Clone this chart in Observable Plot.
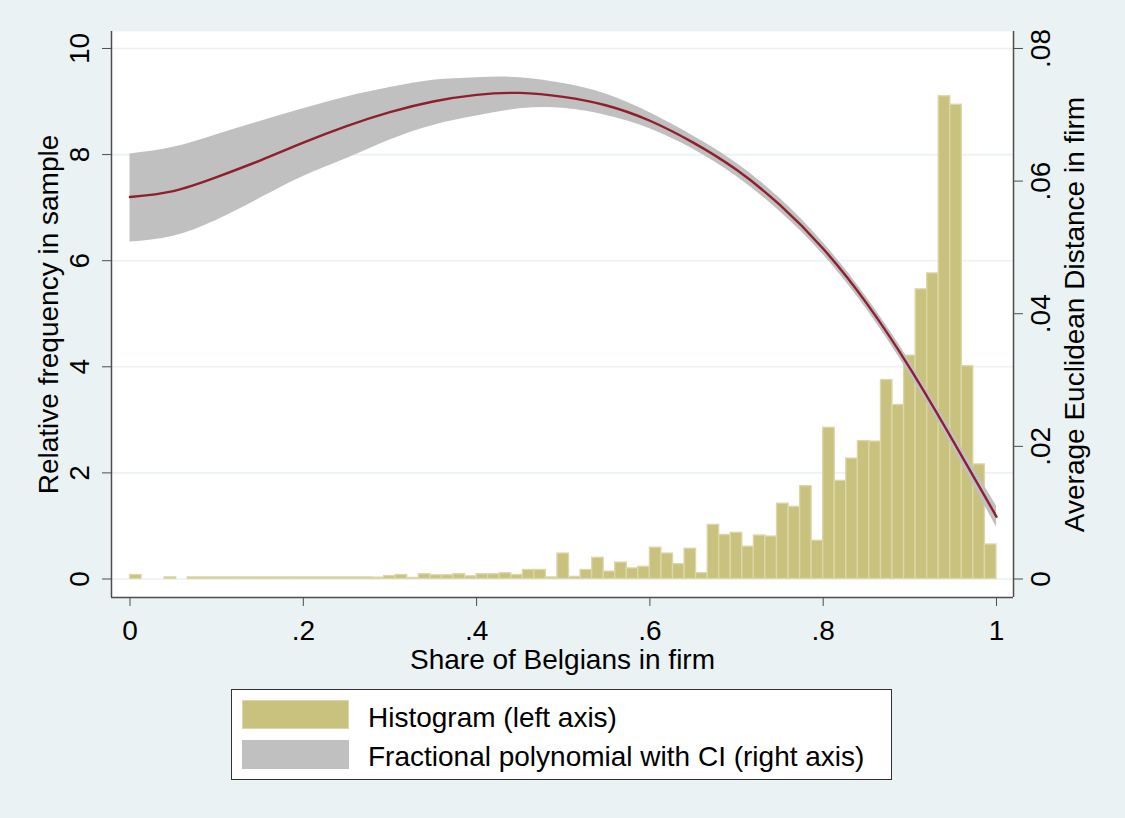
<!DOCTYPE html>
<html>
<head>
<meta charset="utf-8">
<script src="https://cdn.jsdelivr.net/npm/d3@7"></script>
<script src="https://cdn.jsdelivr.net/npm/@observablehq/plot@0.6"></script>
<style>
html, body { margin: 0; padding: 0; background: #eaf2f3; }
#wrap { position: relative; width: 1125px; height: 818px; background: #eaf2f3; font-family: "Liberation Sans", Arial, sans-serif; overflow: hidden; }
#chart { position: absolute; left: 0; top: 0; }
#legend { position: absolute; left: 231px; top: 689px; width: 661px; height: 91px; background: #fff; border: 1px solid #333; box-sizing: border-box; }
.sw { position: absolute; left: 10px; width: 107px; height: 29px; box-sizing: border-box; }
.lt { position: absolute; left: 136px; font-size: 28px; line-height: 32px; color: #000; white-space: nowrap; }
</style>
</head>
<body>
<div id="wrap">
  <div id="chart"></div>
  <div id="legend">
    <div class="sw" style="top:10px;background:#c9c27e;border:1px solid #dcd7a8;"></div>
    <div class="lt" style="top:12px;">Histogram (left axis)</div>
    <div class="sw" style="top:50px;background:#c0c0c0;"></div>
    <div class="lt" style="top:51px;">Fractional polynomial with CI (right axis)</div>
  </div>
</div>
<script>
// ---- Data ----
// Histogram: 75 equal-width bins on [0, 1], density ("relative frequency")
const binCount = 75;
const binHeights = [
  0.075, 0, 0, 0.03, 0, 0.03, 0.03, 0.03, 0.03, 0.03,
  0.03, 0.03, 0.03, 0.03, 0.03, 0.03, 0.03, 0.03, 0.03, 0.03,
  0.03, 0.025, 0.055, 0.075, 0.02, 0.09, 0.07, 0.07, 0.09, 0.05,
  0.09, 0.09, 0.11, 0.075, 0.17, 0.17, 0.03, 0.48, 0.04, 0.17,
  0.40, 0.14, 0.31, 0.20, 0.23, 0.59, 0.48, 0.28, 0.57, 0.11,
  1.02, 0.83, 0.87, 0.61, 0.82, 0.80, 1.42, 1.36, 1.75, 0.72,
  2.85, 1.85, 2.27, 2.60, 2.59, 3.75, 3.28, 4.21, 5.46, 5.76,
  9.10, 8.94, 4.01, 2.16, 0.65
];

// Fractional polynomial fit with confidence interval (right axis units)
const curveX   = [0, 0.05, 0.10, 0.15, 0.20, 0.25, 0.30, 0.35, 0.40, 0.45, 0.50, 0.55, 0.60, 0.65, 0.70, 0.75, 0.80, 0.85, 0.90, 0.95, 1.00];
const curveFit = [0.0576, 0.0585, 0.0606, 0.0631, 0.0658, 0.0683, 0.0704, 0.0720, 0.0730, 0.0733, 0.0727, 0.0714, 0.0691, 0.0658, 0.0617, 0.0564, 0.0498, 0.0416, 0.0318, 0.0208, 0.0094];
const curveLo  = [0.0508, 0.0517, 0.0541, 0.0574, 0.0607, 0.0634, 0.0662, 0.0684, 0.0698, 0.0709, 0.0710, 0.0699, 0.0679, 0.0648, 0.0607, 0.0554, 0.0489, 0.0407, 0.0308, 0.0197, 0.0078];
const curveHi  = [0.0641, 0.0651, 0.0670, 0.0690, 0.0709, 0.0727, 0.0741, 0.0752, 0.0756, 0.0756, 0.0747, 0.0731, 0.0703, 0.0668, 0.0627, 0.0574, 0.0507, 0.0425, 0.0328, 0.0219, 0.0110];

// Ticks
const xTicks = [0, 0.2, 0.4, 0.6, 0.8, 1];
const leftTicks = [0, 2, 4, 6, 8, 10];
const rightTicks = [0, 0.02, 0.04, 0.06, 0.08];
const rightMax = 0.08, leftMax = 10; // right axis 0..0.08 aligned with left 0..10

// ---- Derived tables ----
const k = leftMax / rightMax;
const bins = binHeights.map((h, i) => ({x1: i / binCount, x2: (i + 1) / binCount, h})).filter(d => d.h > 0);
const curve = curveX.map((x, i) => ({x, fit: curveFit[i] * k, lo: curveLo[i] * k, hi: curveHi[i] * k}));

const stripZero = v => v === 0 ? "0" : (Math.abs(v - 1) < 1e-9 ? "1" : d3.format(".2~f")(v).replace(/^0\./, "."));
const fmtRight = v => { const r = v / k; return r === 0 ? "0" : d3.format(".2f")(r).replace(/^0\./, "."); };

const xDomain = [-0.02135, 1.01962];
const yDomain = [-0.349, 10.32];
const axisColor = "#4d4d4d";

const plot = Plot.plot({
  width: 1125,
  height: 686,
  marginLeft: 111,
  marginRight: 112,
  marginTop: 31,
  marginBottom: 89,
  x: {domain: xDomain},
  y: {domain: yDomain},
  style: {fontFamily: "'Liberation Sans', Arial, sans-serif", fontSize: "28px", background: "#eaf2f3", color: "#000", overflow: "visible"},
  marks: [
    Plot.frame({fill: "#ffffff", stroke: null}),
    Plot.gridY(leftTicks, {stroke: "#eaf2f3", strokeOpacity: 1, strokeWidth: 1.6}),
    Plot.rectX(bins, {x1: "x1", x2: "x2", y1: 0, y2: "h", fill: "#c9c27e", stroke: "#dcd7a8", strokeWidth: 1.3}),
    Plot.areaY(curve, {x: "x", y1: "lo", y2: "hi", fill: "#c0c0c0", curve: "natural"}),
    Plot.line(curve, {x: "x", y: "fit", stroke: "#8e1f2c", strokeWidth: 2.4, curve: "natural"}),
    Plot.ruleX([xDomain[0]], {stroke: axisColor, strokeWidth: 1.5}),
    Plot.ruleX([xDomain[1]], {stroke: axisColor, strokeWidth: 1.5}),
    Plot.ruleY([yDomain[0]], {stroke: axisColor, strokeWidth: 1.5}),
    Plot.axisX({ticks: xTicks, tickFormat: stripZero, tickSize: 9, tickPadding: 14, stroke: axisColor, fill: "#000",
      label: "Share of Belgians in firm", labelAnchor: "center", labelOffset: 71, labelArrow: "none"}),
    Plot.axisY({anchor: "left", ticks: leftTicks, tickFormat: d => String(d), tickRotate: -90, tickSize: 9, tickPadding: 14,
      stroke: axisColor, fill: "#000",
      label: "Relative frequency in sample", labelAnchor: "center", labelOffset: 73, labelArrow: "none"}),
    Plot.axisY({anchor: "right", ticks: rightTicks.map(v => v * k), tickFormat: fmtRight, tickRotate: -90, tickSize: 9, tickPadding: 8,
      lineAnchor: "top", stroke: axisColor, fill: "#000",
      label: "Average Euclidean Distance in firm", labelAnchor: "center", labelOffset: 70, labelArrow: "none"})
  ]
});
document.getElementById("chart").appendChild(plot);
</script>
</body>
</html>
